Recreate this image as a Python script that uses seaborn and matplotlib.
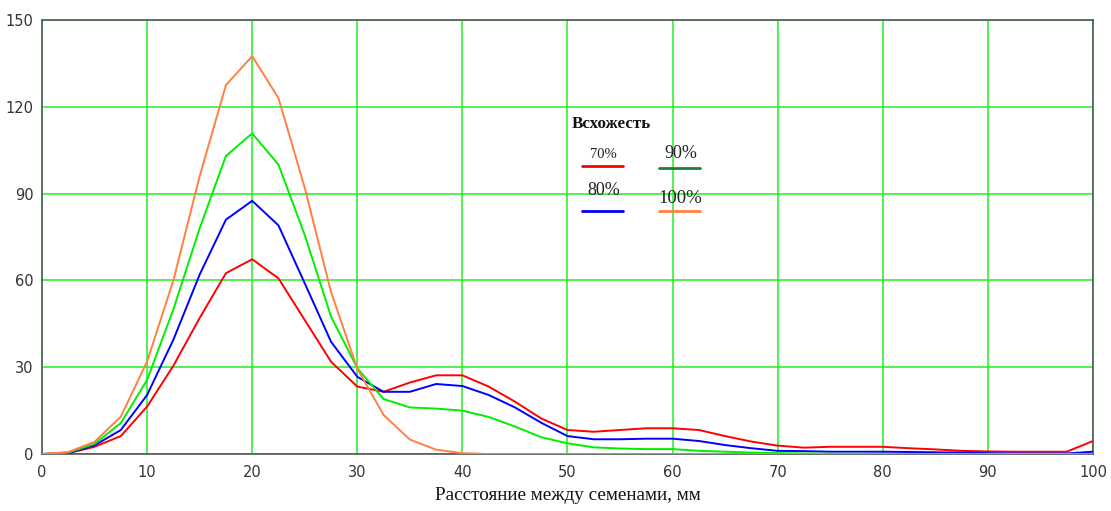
import numpy as np
import pandas as pd
import matplotlib.pyplot as plt
import seaborn as sns

# distance between seeds, mm (step 2.5)
dist = [i * 2.5 for i in range(41)]

# germination 70%
g70 = [0, 0.3, 2.5, 6.2, 16.4, 30.5, 47, 62.5, 67.3, 60.7, 46.3, 31.9, 23.3, 21.5,
       24.7, 27.2, 27.2, 23.3, 18.1, 12.3, 8.3, 7.7, 8.3, 8.9, 8.9, 8.3, 6.2, 4.3,
       2.9, 2.2, 2.5, 2.5, 2.5, 2.0, 1.6, 1.1, 0.9, 0.8, 0.8, 0.8, 4.5]
# germination 80%
g80 = [0, 0.3, 3, 8.3, 20.4, 39.5, 62, 81, 87.5, 79, 59, 38.8, 26.7, 21.5,
       21.5, 24.2, 23.5, 20.4, 16.1, 10.8, 6.2, 5.1, 5.1, 5.3, 5.3, 4.5, 3.1, 2.0,
       1.1, 1.0, 0.8, 0.8, 0.8, 0.7, 0.6, 0.5, 0.3, 0.2, 0.2, 0.2, 0.8]
# germination 90%
g90 = [0, 0.5, 3.5, 10.7, 25.6, 50, 78, 103, 110.8, 100, 75.7, 47.5, 29.7, 19,
       16.1, 15.7, 15, 12.8, 9.5, 5.8, 3.7, 2.3, 1.9, 1.7, 1.7, 1.1, 0.8, 0.5,
       0.3, 0.2, 0.1, 0.1, 0, 0, 0, 0, 0, 0, 0, 0, 0]
# germination 100%
g100 = [0, 0.7, 4.2, 12.9, 32, 60, 96, 127.5, 137.5, 123, 92, 56, 29.5, 13.5,
        5, 1.5, 0.3, 0, 0, 0, 0, 0, 0, 0, 0, 0, 0, 0,
        0, 0, 0, 0, 0, 0, 0, 0, 0, 0, 0, 0, 0]

labels = ['70%', '80%', '90%', '100%']
series = [g70, g80, g90, g100]
colors = {'70%': '#ff0000', '80%': '#0000ff', '90%': '#00ee00', '100%': '#ff8040'}
legend_colors = {'70%': '#ff0000', '80%': '#0000ff', '90%': '#1b7f3b', '100%': '#ff8040'}

df = pd.concat([pd.DataFrame({'x': dist, 'y': s, 'g': lab})
                for lab, s in zip(labels, series)], ignore_index=True)

sns.set_style('white')
plt.rcParams['font.family'] = ['DejaVu Sans']

fig = plt.figure(figsize=(11.11, 5.11), dpi=100)
ax = fig.add_axes([0.0378, 0.1115, 0.9460, 0.8494])

sns.lineplot(data=df, x='x', y='y', hue='g', palette=colors, hue_order=labels,
             linewidth=1.4, legend=False, ax=ax, zorder=3)

ax.set_xlim(0, 100)
ax.set_ylim(0, 150)
ax.set_xticks(range(0, 101, 10))
ax.set_yticks(range(0, 151, 30))
ax.grid(True, color='#22ee22', linewidth=1.1, zorder=0)
ax.set_axisbelow(True)
for side in ['left', 'bottom', 'top', 'right']:
    ax.spines[side].set_color('#555555')
    ax.spines[side].set_linewidth(1.2)
ax.tick_params(axis='both', labelsize=10.5, colors='#333333', length=0, pad=6)
ax.tick_params(axis='x', pad=8)
ax.set_xlabel('Расстояние между семенами, мм', family='Liberation Serif',
              fontsize=13.8, color='#111111', labelpad=5)
ax.set_ylabel('')

# legend block drawn by hand (labels above line samples, two columns)
ax.text(0.5043, 0.760, 'Всхожесть', transform=ax.transAxes, family='Liberation Serif',
        fontweight='bold', fontsize=12.2, color='#111111', va='center')
leg_pos = {'70%': (0.5138, 0.6636), '90%': (0.587, 0.659),
           '80%': (0.5138, 0.560), '100%': (0.587, 0.560)}
text_y = {'70%': 0.689, '90%': 0.6935, '80%': 0.608, '100%': 0.5876}
text_fs = {'70%': 10.5, '90%': 13, '80%': 13, '100%': 13.5}
for lab in labels:
    x0, y0 = leg_pos[lab]
    ax.plot([x0, x0 + 0.039], [y0, y0], transform=ax.transAxes,
            color=legend_colors[lab], linewidth=2, clip_on=False)
    ax.text(x0 + 0.0205, text_y[lab], lab, transform=ax.transAxes,
            ha='center', va='center', family='Liberation Serif',
            fontsize=text_fs[lab], color='#222222')

plt.savefig('out.png', dpi=100)
